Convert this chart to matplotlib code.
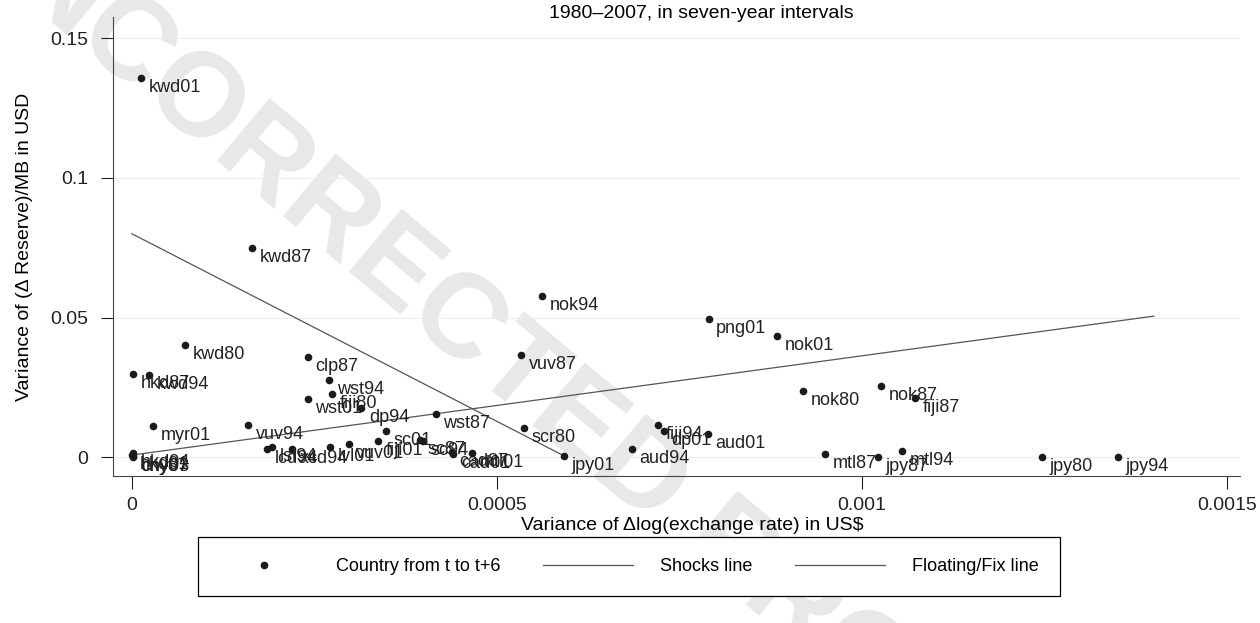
import matplotlib.pyplot as plt
from matplotlib.lines import Line2D

plt.rcParams['font.family'] = ['Liberation Sans', 'DejaVu Sans']

# country-period points: variance of dlog(exchange rate) vs variance of (d reserve)/MB
labels = ['kwd01', 'kwd87', 'nok94', 'png01', 'nok01', 'vuv87', 'clp87', 'kwd80',
          'hkd87', 'kwd94', 'nok80', 'nok87', 'fiji87', 'wst94', 'wst01', 'fiji80',
          'dp94', 'wst87', 'scr80', 'jpy01', 'aud94', 'fiji94', 'dp01', 'aud01',
          'mtl87', 'jpy87', 'mtl94', 'jpy80', 'jpy94', 'myr01', 'vuv94', 'lcd94',
          'lsl94', 'xcd94', 'lvl01', 'vuv01', 'fiji01', 'sc01', 'sc87', 'sc94',
          'cad87', 'cad01', 'mtl01', 'hkd94', 'hkd01', 'cny87', 'cny03']
var_fx = [0.000012, 0.000164, 0.000562, 0.000790, 0.000884, 0.000533, 0.000241, 0.000073,
          0.000001, 0.000023, 0.000919, 0.001026, 0.001073, 0.000270, 0.000241, 0.000274,
          0.000314, 0.000416, 0.000537, 0.000592, 0.000685, 0.000721, 0.000729, 0.000789,
          0.000949, 0.001022, 0.001055, 0.001247, 0.001351, 0.000029, 0.000159, 0.000185,
          0.000192, 0.000219, 0.000271, 0.000297, 0.000337, 0.000348, 0.000395, 0.000399,
          0.000438, 0.000440, 0.000466, 0.000001, 0.000000, 0.000001, 0.000002]
var_res = [0.1360, 0.0749, 0.0577, 0.0495, 0.0435, 0.0367, 0.0358, 0.0401,
           0.0297, 0.0293, 0.0237, 0.0254, 0.0212, 0.0276, 0.0208, 0.0225,
           0.0176, 0.0154, 0.0104, 0.0004, 0.0029, 0.0115, 0.0093, 0.0082,
           0.0011, 0.0001, 0.0021, 0.0001, 0.0001, 0.0111, 0.0115, 0.0029,
           0.0036, 0.0029, 0.0036, 0.0047, 0.0057, 0.0093, 0.0061, 0.0057,
           0.0018, 0.0011, 0.0014, 0.0014, 0.0007, 0.0002, 0.0000]

# fitted lines (end points)
shock_x = [0.0, 0.00140]
shock_y = [0.0007, 0.0505]
float_x = [0.0, 0.000592]
float_y = [0.0800, 0.0004]

xticks = [0, 0.0005, 0.001, 0.0015]
xtick_labels = ['0', '0.0005', '0.001', '0.0015']
yticks = [0, 0.05, 0.1, 0.15]
ytick_labels = ['0', '0.05', '0.1', '0.15']

fig = plt.figure(figsize=(12.6, 6.23), dpi=100)

# faint watermark of the proof copy, behind everything
fig.text(0.39, 0.435, 'UNCORRECTED PROOF', rotation=-40, fontsize=86, fontweight='bold',
         color='#e8e8e8', ha='center', va='center', zorder=-5)

ax = fig.add_axes([113/1260, 147/623, (1240-113)/1260, (476-17)/623])
ax.patch.set_alpha(0)

ax.scatter(var_fx, var_res, s=20, color='#1a1a1a', zorder=3)
for lab, x, y in zip(labels, var_fx, var_res):
    ax.annotate(lab, (x, y), xytext=(5.5, -7), textcoords='offset points',
                ha='left', va='center', fontsize=13, color='#222222')

ax.plot(shock_x, shock_y, color='#555555', lw=0.9, zorder=2)
ax.plot(float_x, float_y, color='#555555', lw=0.9, zorder=2)

ax.set_xlim(-0.000026, 0.001518)
ax.set_ylim(-0.0068, 0.1577)
ax.set_xticks(xticks, xtick_labels)
ax.set_yticks(yticks, ytick_labels)
ax.tick_params(direction='out', length=9, width=0.8, labelsize=14, colors='#222222', pad=9)
ax.tick_params(axis='x', pad=6)
for y in yticks:
    ax.axhline(y, color='#ededed', lw=0.8, zorder=0)
ax.spines['top'].set_visible(False)
ax.spines['right'].set_visible(False)
ax.spines['left'].set_color('#444444')
ax.spines['bottom'].set_color('#444444')

ax.set_ylabel('Variance of (\u0394 Reserve)/MB in USD', fontsize=14, labelpad=12)
fig.text(692/1260, 1 - 525/623, 'Variance of \u0394log(exchange rate) in US$',
         ha='center', va='center', fontsize=14)
fig.text(701/1260, 1 - 13/623, '1980\u20132007, in seven-year intervals',
         ha='center', va='center', fontsize=14)

handles = [Line2D([], [], marker='o', ls='none', color='#1a1a1a', markersize=4.5),
           Line2D([], [], color='#555555', lw=0.9),
           Line2D([], [], color='#555555', lw=0.9)]
leg = fig.legend(handles, ['Country from t to t+6', 'Shocks line', 'Floating/Fix line'],
                 ncol=3, mode='expand', loc='lower left',
                 bbox_to_anchor=(198/1260, 27/623, 862/1260, 58/623),
                 borderaxespad=0, fontsize=13, handlelength=5.0, handletextpad=1.5,
                 borderpad=1.15, fancybox=False, framealpha=1, edgecolor='black')
leg.get_frame().set_linewidth(0.9)

fig.savefig('out.png', dpi=100)
